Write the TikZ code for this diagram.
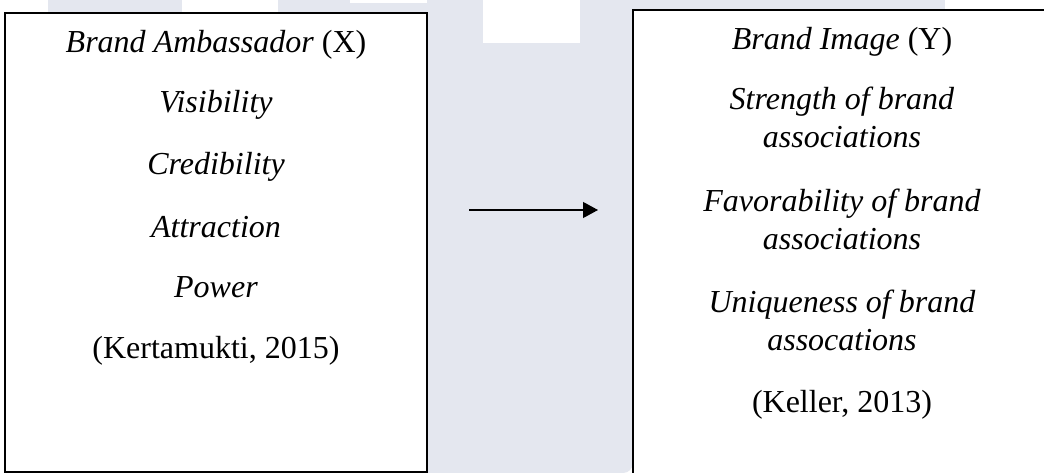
\documentclass[tikz,border=0pt]{standalone}
\usepackage{fontspec}
\setmainfont{Liberation Serif}
\usetikzlibrary{arrows.meta}
\definecolor{wm}{HTML}{E4E7EF}
\tikzset{
  boxline/.style={draw=black, line width=1.6pt},
  txt/.style={anchor=base, inner sep=0pt, align=center, font=\fontsize{32}{38}\selectfont},
  conn/.style={draw=black, line width=1.2pt, -{Triangle[length=15pt,width=16pt]}},
}
\begin{document}
\begin{tikzpicture}[x=1pt,y=-1pt]
\useasboundingbox (0,0) rectangle (1044,473);
% background and watermark
\fill[white] (0,0) rectangle (1044,473);
\fill[wm] (48,0) rectangle (182,13);
\fill[wm] (278,0) rectangle (350,13);
\fill[wm] (350,3) rectangle (447,13);
\fill[wm] (427,0) -- (633,0) -- (633,463) arc[start angle=0,end angle=90,radius=10] -- (427,473) -- cycle;
\fill[white] (483,0) rectangle (580,43);
\fill[wm] (633,0) rectangle (945,10);
% boxes
\fill[white] (5,13) rectangle (427,472);
\draw[boxline] (5,13) rectangle (427,472);
\fill[white] (633,10) rectangle (1050,473);
\draw[boxline] (633,474) -- (633,10) -- (1050,10);
% left texts
\node[txt] (x0) at (216,53) {\textit{Brand Ambassador} (X)};
\node[txt] (x1) at (216,113) {\textit{Visibility}};
\node[txt] (x2) at (216,175) {\textit{Credibility}};
\node[txt] (x3) at (216,237) {\textit{Attraction}};
\node[txt] (x4) at (216,297) {\textit{Power}};
\node[txt] (x5) at (216,358) {(Kertamukti, 2015)};
% right texts
\node[txt] (y0) at (842,50) {\textit{Brand Image} (Y)};
\node[txt] (y1) at (842,148) {\textit{Strength of brand}\\\textit{associations}};
\node[txt] (y2) at (842,250) {\textit{Favorability of brand}\\\textit{associations}};
\node[txt] (y3) at (842,350) {\textit{Uniqueness of brand}\\\textit{assocations}};
\node[txt] (y4) at (842,412) {(Keller, 2013)};
% arrow
\coordinate (a1) at (469,210);
\coordinate (a2) at (598,210);
\draw[conn] (a1) -- (a2);
\end{tikzpicture}
\end{document}
